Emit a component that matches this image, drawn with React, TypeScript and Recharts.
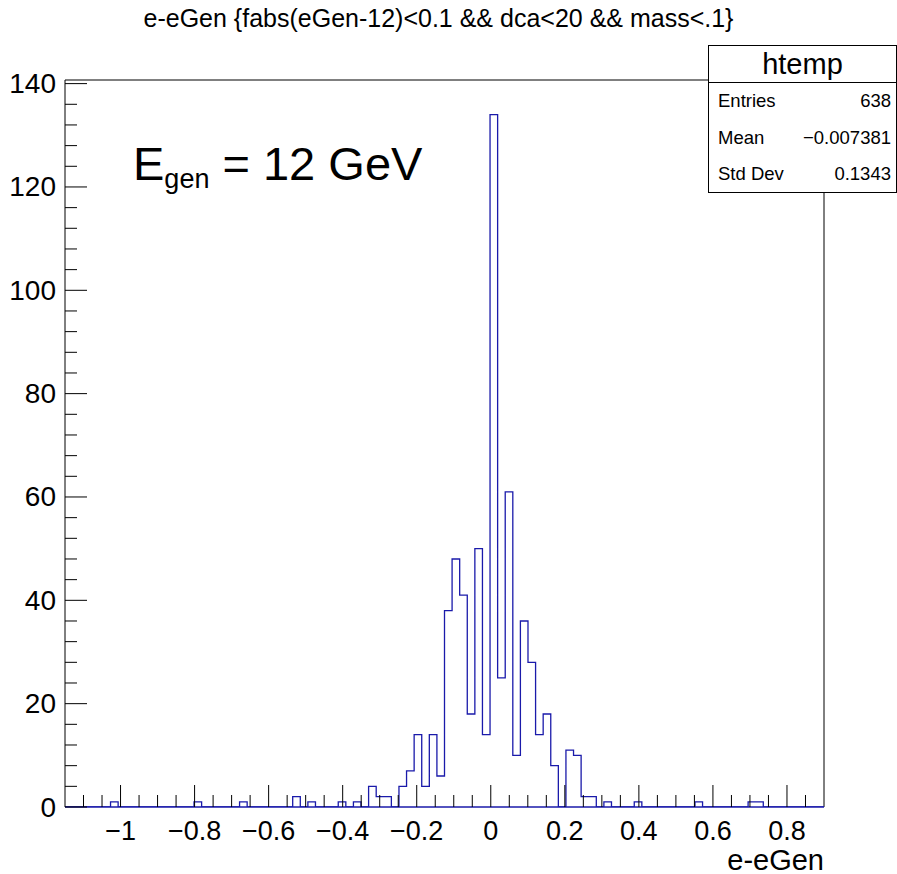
import React from "react";
import {
  ComposedChart,
  Line,
  XAxis,
  YAxis,
  ReferenceLine,
} from "recharts";

// ---- data ----
const X_MIN = -1.15;
const X_MAX = 0.9;
const Y_MAX = 140.7;

// bin contents (100 bins from X_MIN to X_MAX)
const counts: number[] = [
  0, 0, 0, 0, 0, 0, 1, 0, 0, 0,
  0, 0, 0, 0, 0, 0, 0, 1, 0, 0,
  0, 0, 0, 1, 0, 0, 0, 0, 0, 0,
  2, 0, 1, 0, 0, 0, 1, 0, 1, 0,
  4, 2, 2, 0, 4, 7, 14, 4, 14, 6,
  38, 48, 41, 18, 50, 14, 134, 25, 61, 10,
  36, 28, 14, 18, 8, 0, 11, 10, 2, 2,
  0, 1, 0, 0, 0, 1, 0, 0, 0, 0,
  0, 0, 0, 1, 0, 0, 0, 0, 0, 0,
  1, 1, 0, 0, 0, 0, 0, 0, 0, 0,
];

const xMajorTicks = [-1, -0.8, -0.6, -0.4, -0.2, 0, 0.2, 0.4, 0.6, 0.8];
const xMinorStep = 0.05;
const yMajorTicks = [0, 20, 40, 60, 80, 100, 120, 140];
const yMinorStep = 4;

const titleText = "e-eGen {fabs(eGen-12)<0.1 && dca<20 && mass<.1}";
const xAxisTitle = "e-eGen";
const statsName = "htemp";
const statsRows: [string, string][] = [
  ["Entries", "638"],
  ["Mean", "\u22120.007381"],
  ["Std Dev", "0.1343"],
];

// ---- derived ----
const binWidth = (X_MAX - X_MIN) / counts.length;
const histData = counts
  .map((c, i) => ({ x: X_MIN + i * binWidth, count: c }))
  .concat([{ x: X_MAX, count: counts[counts.length - 1] }]);

const xTicks: number[] = [];
for (let v = -1.1; v < X_MAX - 1e-6; v += xMinorStep) xTicks.push(Math.round(v * 100) / 100);
const yTicks: number[] = [];
for (let v = 0; v <= 140; v += yMinorStep) yTicks.push(v);

const HIST_COLOR = "#1a1aaa";
const FONT = '"Liberation Sans", Arial, Helvetica, sans-serif';
const fmt = (v: number) => {
  const s = String(Math.abs(Math.round(v * 10) / 10));
  return v < -1e-9 ? "\u2212" + s : s;
};
const isMajorX = (v: number) => xMajorTicks.some((m) => Math.abs(m - v) < 1e-6);
const isMajorY = (v: number) => yMajorTicks.some((m) => Math.abs(m - v) < 1e-6);

const XTick = (props: any) => {
  const { x, y, payload } = props;
  const major = isMajorX(payload.value);
  return (
    <g>
      <line x1={x} x2={x} y1={y} y2={y - (major ? 22 : 12)} stroke="#000" strokeWidth={1} />
      {major && (
        <text x={x} y={y + 24} textAnchor="middle" dominantBaseline="central" fontFamily={FONT} fontSize={27} fill="#000">
          {fmt(payload.value)}
        </text>
      )}
    </g>
  );
};

const YTick = (props: any) => {
  const { x, y, payload } = props;
  const major = isMajorY(payload.value);
  return (
    <g>
      <line x1={x} x2={x + (major ? 22 : 12)} y1={y} y2={y} stroke="#000" strokeWidth={1} />
      {major && (
        <text x={x - 9} y={y} textAnchor="end" dominantBaseline="central" fontFamily={FONT} fontSize={28} fill="#000">
          {fmt(payload.value)}
        </text>
      )}
    </g>
  );
};

export default function App() {
  return (
    <div style={{ position: "absolute", left: 0, top: 0, width: 897, height: 874, background: "#fff", fontFamily: FONT, overflow: "hidden" }}>
      <ComposedChart
        width={897}
        height={874}
        data={histData}
        margin={{ top: 80, right: 73, bottom: 27, left: 5 }}
      >
        <XAxis
          dataKey="x"
          type="number"
          domain={[X_MIN, X_MAX]}
          allowDataOverflow
          ticks={xTicks}
          interval={0}
          tickSize={0}
          tickMargin={0}
          tickLine={false}
          tick={XTick}
          height={40}
          axisLine={{ stroke: HIST_COLOR, strokeWidth: 1.3 }}
        />
        <YAxis
          type="number"
          domain={[0, Y_MAX]}
          allowDataOverflow
          ticks={yTicks}
          interval={0}
          tickSize={0}
          tickMargin={0}
          tickLine={false}
          tick={YTick}
          width={60}
          axisLine={{ stroke: "#000", strokeWidth: 1 }}
        />
        <ReferenceLine y={Y_MAX} stroke="#000" strokeWidth={1} />
        <ReferenceLine x={X_MAX} stroke="#000" strokeWidth={1} />
        <Line
          dataKey="count"
          type="stepAfter"
          stroke={HIST_COLOR}
          strokeWidth={1.3}
          dot={false}
          activeDot={false}
          isAnimationActive={false}
        />
      </ComposedChart>

      <div style={{ position: "absolute", left: 0, width: 897, top: 4, textAlign: "center", fontSize: 25, lineHeight: "28px", color: "#000" }}>
        <span style={{ position: "relative", left: -10 }}>{titleText}</span>
      </div>

      <div style={{ position: "absolute", left: 133, top: 136, fontSize: 47, lineHeight: "56px", color: "#000", whiteSpace: "nowrap" }}>
        E<sub style={{ fontSize: 27, verticalAlign: "-8px" }}>gen</sub> = 12 GeV
      </div>

      <div style={{ position: "absolute", right: 73, top: 847, fontSize: 29, lineHeight: "27px", color: "#000" }}>
        {xAxisTitle}
      </div>

      <div style={{ position: "absolute", left: 708, top: 45, width: 187, height: 146, border: "1px solid #000", background: "#fff", color: "#000" }}>
        <div style={{ height: 36, borderBottom: "1px solid #000", textAlign: "center", fontSize: 29, lineHeight: "36px" }}>
          {statsName}
        </div>
        {statsRows.map(([k, v]) => (
          <div key={k} style={{ display: "flex", justifyContent: "space-between", padding: "0 5px 0 9px", height: 36.5, lineHeight: "36.5px", fontSize: 18.5 }}>
            <span>{k}</span>
            <span>{v}</span>
          </div>
        ))}
      </div>
    </div>
  );
}
